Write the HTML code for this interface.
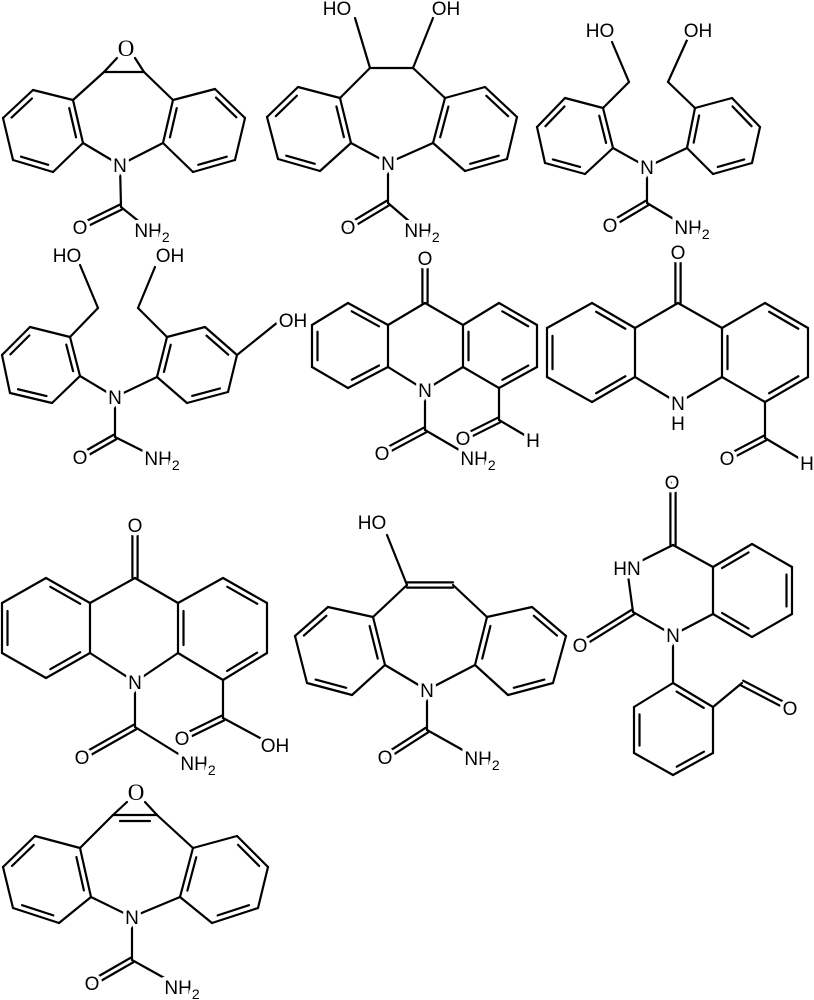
<!DOCTYPE html>
<html><head><meta charset="utf-8"><style>
html,body{margin:0;padding:0;background:#fff;}
svg{display:block;}
text{font-family:"Liberation Sans",sans-serif;font-size:19px;fill:#000;stroke:#fff;stroke-width:7px;paint-order:stroke;text-anchor:middle;}
text.ser{font-family:"Liberation Serif",serif;font-size:23px;stroke-width:0;}
tspan.s{font-size:14px;}
</style></head><body>
<svg id="s" width="814" height="1000" viewBox="0 0 814 1000" xmlns="http://www.w3.org/2000/svg">
<g id="b" stroke="#000" stroke-width="2.2" fill="none" stroke-linecap="round" stroke-linejoin="round"></g>
<g id="t">
<!-- mol1 -->
<text class="ser" x="126" y="56">O</text><text x="120" y="172">N</text>
<text x="80" y="234">O</text><text x="152" y="237">NH<tspan class="s" dy="5">2</tspan></text>
<!-- mol2 -->
<text x="337" y="15">HO</text><text x="446" y="15">OH</text><text x="388" y="170">N</text>
<text x="348" y="234">O</text><text x="422" y="237">NH<tspan class="s" dy="5">2</tspan></text>
<!-- mol3 -->
<text x="600" y="37">HO</text><text x="698" y="37">OH</text><text x="647" y="174">N</text>
<text x="610" y="232">O</text><text x="692" y="234">NH<tspan class="s" dy="5">2</tspan></text>
<!-- mol4 -->
<text x="67" y="262">HO</text><text x="170" y="262">OH</text><text x="293" y="327">OH</text><text x="115" y="404">N</text>
<text x="80" y="464">O</text><text x="162" y="465">NH<tspan class="s" dy="5">2</tspan></text>
<!-- mol5 -->
<text x="425" y="265">O</text><text x="425" y="397">N</text>
<text x="463" y="445">O</text><text x="533" y="447">H</text>
<text x="382" y="460">O</text><text x="478" y="465">NH<tspan class="s" dy="5">2</tspan></text>
<!-- mol6 -->
<text x="678" y="259">O</text><text x="678" y="410">N</text><text x="678" y="430">H</text>
<text x="727" y="465">O</text><text x="807" y="470">H</text>
<!-- mol7 -->
<text x="135" y="532">O</text><text x="135" y="689">N</text>
<text x="182" y="745">O</text><text x="275" y="752">OH</text>
<text x="82" y="764">O</text><text x="198" y="770">NH<tspan class="s" dy="5">2</tspan></text>
<!-- mol8 -->
<text x="372" y="529">HO</text><text x="427" y="697">N</text>
<text x="385" y="764">O</text><text x="482" y="765">NH<tspan class="s" dy="5">2</tspan></text>
<!-- mol9 -->
<text x="672" y="489">O</text><text x="627" y="575">HN</text><text x="580" y="652">O</text>
<text x="673" y="642">N</text><text x="790" y="715">O</text>
<!-- mol10 -->
<text class="ser" x="136" y="800">O</text><text x="132" y="924">N</text>
<text x="92" y="990">O</text><text x="182" y="994">NH<tspan class="s" dy="5">2</tspan></text>
</g>
</svg>
<script>
var G=document.getElementById('b'),NS='http://www.w3.org/2000/svg';
function L(a,b,c,d){var l=document.createElementNS(NS,'line');l.setAttribute('x1',a);l.setAttribute('y1',b);l.setAttribute('x2',c);l.setAttribute('y2',d);G.appendChild(l);}
function ln(p){for(var i=0;i<p.length-1;i++)L(p[i][0],p[i][1],p[i+1][0],p[i+1][1]);}
function ring(p,d){var cx=0,cy=0;p.forEach(function(q){cx+=q[0];cy+=q[1];});cx/=p.length;cy/=p.length;
for(var i=0;i<p.length;i++){var a=p[i],b=p[(i+1)%p.length];L(a[0],a[1],b[0],b[1]);
if(d.indexOf(i)>=0){var dx=b[0]-a[0],dy=b[1]-a[1],len=Math.hypot(dx,dy),nx=-dy/len,ny=dx/len;
var mx=(a[0]+b[0])/2,my=(a[1]+b[1])/2;if((cx-mx)*nx+(cy-my)*ny<0){nx=-nx;ny=-ny;}
var o=5.5,s=0.16;L(a[0]+dx*s+nx*o,a[1]+dy*s+ny*o,b[0]-dx*s+nx*o,b[1]-dy*s+ny*o);}}}
function dbl(a,b){var dx=b[0]-a[0],dy=b[1]-a[1],len=Math.hypot(dx,dy),nx=-dy/len*2.6,ny=dx/len*2.6;
L(a[0]+nx,a[1]+ny,b[0]+nx,b[1]+ny);L(a[0]-nx,a[1]-ny,b[0]-nx,b[1]-ny);}
var D=[1,3,5],A=[0,2,4];
// mol1
ring([[73,100],[33,90],[3,118],[13,160],[53,172],[83,143]],D);
ring([[173,100],[215,89],[245,118],[235,160],[193,172],[163,143]],D);
ln([[73,100],[104,72],[144,72],[173,100]]);ln([[104,72],[117,58]]);ln([[135,58],[144,72]]);
ln([[83,143],[120,165],[163,143]]);ln([[120,165],[121,207],[147,228]]);dbl([121,207],[80,227]);
// mol2
ring([[340,98],[298,87],[267,117],[278,159],[320,171],[351,143]],D);
ring([[445,98],[485,87],[517,117],[507,159],[465,171],[433,143]],D);
ln([[340,98],[370,68],[413,68],[445,98]]);ln([[355,18],[370,68]]);ln([[433,18],[413,68]]);
ln([[351,143],[388,163],[433,143]]);ln([[388,163],[388,203],[417,228]]);dbl([388,203],[348,227]);
// mol3
ring([[603,108],[565,98],[537,127],[545,163],[585,174],[613,148]],D);
ring([[695,108],[732,98],[760,127],[752,163],[713,174],[687,148]],D);
ln([[603,108],[629,82],[612,42]]);ln([[695,108],[668,82],[687,40]]);
ln([[613,148],[647,167],[687,148]]);ln([[647,167],[647,203],[687,227]]);dbl([647,203],[610,225]);
// mol4
ring([[70,337],[30,327],[2,355],[10,393],[52,403],[80,376]],D);
ring([[167,337],[205,327],[237,355],[228,392],[187,403],[157,377]],D);
ln([[70,337],[98,308],[80,265]]);ln([[167,337],[138,308],[155,267]]);ln([[237,355],[278,322]]);
ln([[80,376],[115,397],[157,377]]);ln([[115,397],[115,437],[157,458]]);dbl([115,437],[80,457]);
// mol5
ring([[388,325],[348,303],[312,325],[312,367],[348,388],[388,367]],A);
ring([[463,325],[499,303],[537,325],[537,367],[499,388],[463,367]],D);
ln([[388,325],[425,303],[463,325]]);dbl([425,303],[425,258]);
ln([[388,367],[425,390],[463,367]]);ln([[425,390],[425,430],[473,458]]);dbl([425,430],[382,453]);
ln([[499,388],[499,420],[533,440]]);dbl([499,420],[463,438]);
// mol6
ring([[635,328],[592,303],[547,328],[547,377],[592,402],[635,377]],A);
ring([[722,328],[765,303],[808,328],[808,377],[765,402],[722,377]],D);
ln([[635,328],[678,303],[722,328]]);dbl([678,303],[678,252]);
ln([[635,377],[678,403],[722,377]]);ln([[765,402],[765,438],[807,463]]);dbl([765,438],[727,458]);
// mol7
ring([[90,603],[46,578],[2,603],[2,653],[46,678],[90,653]],A);
ring([[178,603],[223,578],[267,603],[267,653],[223,680],[178,653]],D);
ln([[90,603],[135,578],[178,603]]);dbl([135,578],[135,525]);
ln([[90,653],[135,682],[178,653]]);ln([[135,682],[135,727],[193,763]]);dbl([135,727],[82,757]);
ln([[223,680],[223,718],[273,745]]);dbl([223,718],[182,738]);
// mol8
ring([[373,617],[328,607],[295,636],[307,683],[352,695],[385,665]],D);
ring([[487,617],[532,607],[566,636],[553,683],[508,695],[475,665]],D);
ln([[373,617],[407,585]]);ln([[453,585],[487,617]]);dbl([407,585],[453,585]);ln([[387,535],[407,585]]);
ln([[385,665],[427,690],[475,665]]);ln([[427,690],[427,730],[477,758]]);dbl([427,730],[385,757]);
// mol9
ring([[713,567],[752,544],[792,567],[792,614],[752,637],[713,614]],A);
ln([[713,567],[673,545],[627,568],[633,612],[673,635],[713,614]]);dbl([673,545],[673,482]);dbl([633,612],[580,645]);
ln([[673,635],[673,683]]);
ring([[673,683],[713,707],[713,753],[673,775],[634,753],[634,707]],A);
ln([[713,707],[742,683]]);dbl([742,683],[790,708]);
// mol10
ring([[80,848],[35,836],[3,867],[13,908],[59,923],[91,897]],D);
ring([[193,848],[237,836],[268,867],[258,908],[212,923],[180,897]],D);
ln([[80,848],[113,815]]);ln([[157,815],[193,848]]);ln([[113,815],[127,802]]);ln([[145,802],[157,815]]);
L(113,815,157,815);L(120,821,150,821);
ln([[91,897],[132,917],[180,897]]);ln([[132,917],[132,960],[177,985]]);dbl([132,960],[92,983]);
</script>
</body></html>
